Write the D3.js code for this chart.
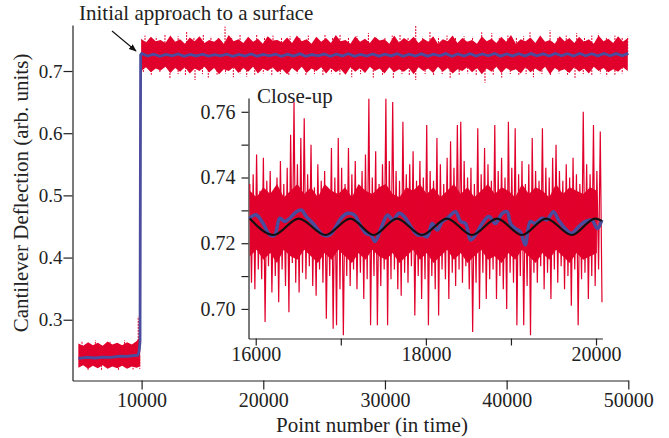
<!DOCTYPE html>
<html>
<head>
<meta charset="utf-8">
<script src="https://cdn.jsdelivr.net/npm/d3@7"></script>
<style>
  body { margin: 0; background: #fff; }
  svg text { font-family: "Liberation Serif", "Times New Roman", serif; fill: #222; }
</style>
</head>
<body>
<div id="chart"></div>
<script>
// ---- main trace: noise envelope before contact ----
const preBandX  = [4800, 5200, 5600, 6000, 6400, 6800, 7200, 7600, 8000, 8400, 8800, 9200, 9600, 9750, 9880];
const preBandHi = [.262, .258, .264, .259, .263, .258, .265, .260, .263, .259, .264, .260, .266, .270, .276];
const preBandLo = [.223, .227, .221, .226, .222, .227, .221, .225, .222, .226, .221, .225, .223, .224, .226];
const preSpikes = [[5100, 0.266], [6200, 0.267], [7400, 0.266], [8600, 0.267], [9720, 0.305], [9790, 0.298],
                   [5600, 0.219], [6700, 0.218], [8100, 0.219], [9300, 0.220], [9850, 0.221]];

// ---- main trace: noise envelope after contact ----
const postBandStart = 9960;
const postBandStep = 400;
const postBandHi = [
  .752, .746, .755, .748, .750, .745, .757, .747, .751, .744,
  .754, .748, .756, .745, .750, .747, .753, .744, .758, .748,
  .751, .745, .755, .747, .752, .744, .756, .749, .750, .746,
  .754, .745, .757, .748, .751, .744, .755, .747, .753, .745,
  .758, .748, .750, .744, .756, .747, .752, .745, .755, .749,
  .751, .744, .757, .746, .753, .748, .755, .745, .752, .747,
  .756, .744, .751, .748, .757, .745, .753, .747, .750, .744,
  .756, .748, .752, .745, .755, .747, .758, .744, .751, .748,
  .754, .745, .757, .747, .750, .744, .756, .748, .753, .745,
  .755, .747, .751, .744, .757, .748, .752, .745, .756, .747,
  .753];
const postBandLo = [
  .700, .706, .698, .704, .701, .707, .697, .705, .699, .706,
  .696, .704, .700, .707, .698, .705, .695, .703, .700, .706,
  .697, .705, .699, .707, .696, .704, .700, .706, .698, .703,
  .695, .705, .699, .707, .697, .704, .700, .706, .696, .705,
  .698, .703, .694, .706, .699, .705, .697, .707, .700, .704,
  .696, .706, .698, .703, .699, .705, .695, .706, .700, .704,
  .697, .707, .699, .705, .696, .703, .700, .706, .698, .705,
  .695, .704, .699, .707, .697, .705, .700, .703, .696, .706,
  .698, .704, .699, .707, .695, .705, .700, .703, .697, .706,
  .699, .704, .696, .707, .700, .705, .698, .703, .699, .706,
  .700];
const postSpikesUp = [[10280, .757], [10700, .753], [11200, .755], [11920, .7585], [12400, .754], [13000, .756], [13700, .7633],
  [14300, .754], [15070, .7585], [15700, .755], [16300, .753], [16855, .7713], [17400, .755], [18090, .7585], [18700, .754],
  [19460, .7585], [20100, .755], [20800, .757], [21500, .754], [22200, .756], [23000, .753], [23700, .757], [24400, .754],
  [25070, .758], [25700, .755], [26310, .758], [27000, .754], [27700, .756], [28640, .761], [29300, .755], [30000, .753],
  [30600, .757], [31240, .758], [31900, .754], [32530, .774], [33100, .755], [33700, .7644], [34400, .755], [35100, .757],
  [35800, .754], [36500, .756], [37200, .755], [37950, .7623], [38780, .761], [39400, .755], [40100, .757], [40800, .754],
  [41400, .756], [41920, .7623], [42700, .755], [43570, .7654], [44200, .755], [44900, .757], [45760, .761], [46400, .755],
  [47000, .757], [47540, .760], [48200, .755], [48900, .757], [49500, .754], [49950, .755]];
const postSpikesDown = [[10140, .697], [10800, .694], [11500, .697], [12330, .6882], [13000, .695], [13600, .693], [14390, .6855],
  [15000, .695], [15480, .6893], [16200, .694], [16900, .696], [17540, .690], [18100, .696], [18640, .6909], [19300, .694],
  [20000, .696], [20700, .692], [21400, .695], [22100, .693], [22800, .696], [23500, .692], [24200, .695], [24900, .693],
  [25600, .696], [26300, .694], [27270, .690], [28000, .695], [29040, .6893], [29800, .694], [30690, .6882], [31400, .695],
  [32000, .693], [32530, .6855], [33300, .695], [34000, .692], [34700, .695], [35360, .689], [36100, .694], [36800, .696],
  [37500, .692], [38220, .6812], [38900, .694], [39600, .6893], [40300, .695], [41000, .693], [41600, .695], [42200, .690],
  [42900, .695], [43600, .693], [44300, .696], [45000, .694], [45620, .689], [46300, .695], [47000, .693], [47700, .696],
  [48230, .6916], [48900, .694], [49500, .696]];

// ---- main trace: smoothed (blue) ----
const preSmooth = [[4800, .238], [5500, .2395], [6200, .2385], [6800, .240], [7500, .2395], [8200, .2415], [8800, .241],
  [9400, .2425], [9700, .243], [9800, .250], [9870, .265], [9920, .726]];
const postSmoothStart = 10000;
const postSmoothStep = 500;
const postSmooth = [
  .7282, .7240, .7270, .7238, .7268, .7245, .7275, .7236, .7266, .7242,
  .7272, .7239, .7264, .7244, .7270, .7236, .7268, .7241, .7274, .7238,
  .7266, .7243, .7271, .7237, .7269, .7240, .7276, .7236, .7265, .7244,
  .7273, .7238, .7270, .7242, .7278, .7236, .7268, .7240, .7275, .7239,
  .7271, .7243, .7279, .7237, .7270, .7241, .7276, .7239, .7272, .7244,
  .7280, .7238, .7273, .7242, .7277, .7240, .7275, .7244, .7281, .7239,
  .7274, .7243, .7278, .7241, .7280, .7245, .7276, .7240, .7282, .7244,
  .7277, .7242, .7281, .7246, .7279, .7243, .7283, .7245, .7280, .7247, .7284];

// ---- close-up (inset) ----
const closeStart = 15930;
const closeStep = 20;
const closeRaw = [
  .738, .708, .741, .706, .747, .712, .736, .709, .746, .696, .739, .713, .742, .705, .735, .710, .740, .702, .745, .712,
  .738, .707, .743, .699, .753, .714, .763, .708, .744, .705, .752, .711, .758, .709, .741, .713, .750, .707, .737, .704,
  .744, .712, .739, .708, .742, .697, .736, .710, .749, .694, .740, .695, .752, .706, .743, .692, .738, .710, .749, .707,
  .741, .712, .745, .706, .737, .711, .742, .703, .747, .709, .764, .695, .740, .710, .748, .695, .738, .707, .744, .712,
  .764, .695, .745, .709, .763, .712, .742, .706, .739, .704, .757, .711, .741, .708, .744, .713, .748, .698, .739, .710,
  .745, .703, .740, .709, .756, .695, .742, .710, .739, .706, .752, .698, .744, .712, .738, .709, .746, .703, .751, .711,
  .743, .707, .756, .712, .757, .708, .745, .713, .740, .706, .743, .693, .738, .708, .755, .700, .741, .711, .749, .703,
  .744, .709, .739, .712, .756, .703, .742, .710, .746, .706, .740, .700, .757, .711, .743, .708, .755, .695, .741, .710,
  .745, .695, .738, .707, .744, .692, .752, .711, .742, .708, .739, .713, .755, .706, .743, .711, .740, .703, .746, .712,
  .750, .708, .742, .713, .739, .706, .744, .710, .740, .701, .746, .712, .741, .695, .738, .709, .760, .711, .744, .703,
  .741, .710, .756, .707, .742, .712, .754, .702];
// dense core of the close-up noise
const closeCoreStep = 80;
const closeCoreHi = [
  .736, .734, .737, .735, .738, .734, .736, .738, .735, .737,
  .734, .738, .736, .735, .737, .734, .738, .736, .735, .737,
  .738, .735, .734, .737, .736, .738, .735, .737, .734, .736,
  .738, .735, .737, .734, .736, .738, .735, .737, .736, .734,
  .738, .735, .737, .736, .734, .738, .735, .737, .736, .735,
  .737, .736];
const closeCoreLo = [
  .716, .718, .715, .717, .714, .718, .716, .715, .718, .716,
  .714, .717, .715, .718, .716, .714, .717, .715, .718, .716,
  .715, .717, .714, .716, .718, .715, .717, .714, .716, .718,
  .715, .717, .714, .716, .718, .715, .716, .714, .717, .715,
  .718, .716, .714, .717, .715, .718, .716, .714, .717, .715,
  .716, .717];
const closeSmooth = [[15930, .7275], [15950, .7281], [16008, .7286], [16087, .7260], [16165, .7225], [16223, .7225],
  [16282, .7276], [16341, .7266], [16400, .7276], [16478, .7296], [16537, .7301], [16595, .7281], [16674, .7260],
  [16733, .7240], [16791, .7225], [16869, .7225], [16930, .7245], [17003, .7276], [17081, .7291], [17159, .7286],
  [17218, .7260], [17296, .7230], [17355, .7225], [17402, .7205], [17472, .7245], [17550, .7286], [17609, .7271],
  [17687, .7291], [17746, .7281], [17824, .7250], [17902, .7225], [17961, .7225], [18016, .7220], [18075, .7260],
  [18134, .7240], [18193, .7266], [18251, .7276], [18349, .7296], [18408, .7266], [18466, .7260], [18525, .7210],
  [18584, .7225], [18662, .7260], [18741, .7281], [18818, .7260], [18897, .7291], [18955, .7296], [18995, .7260],
  [19050, .7245], [19109, .7235], [19168, .7195], [19226, .7266], [19285, .7260], [19363, .7276], [19422, .7271],
  [19500, .7296], [19559, .7271], [19637, .7245], [19716, .7230], [19794, .7250], [19872, .7266], [19951, .7270],
  [20016, .7245], [20068, .7271]];
// fitted oscillation: maxima / minima
const closeFit = [[15930, .7275], [16211, .7225], [16505, .7275], [16819, .7225], [17112, .7275], [17386, .7225],
  [17660, .7275], [17954, .7225], [18248, .7275], [18542, .7225], [18835, .7275], [19129, .7225], [19414, .7275],
  [19716, .7225], [19990, .7275], [20068, .7268]];

// ---- ticks ----
const mainXTicks = [10000, 20000, 30000, 40000, 50000];
const mainYTicks = [0.3, 0.4, 0.5, 0.6, 0.7];
const closeXTicks = [16000, 17000, 18000, 19000, 20000];
const closeXLabels = [16000, 18000, 20000];
const closeYTicks = [0.70, 0.71, 0.72, 0.73, 0.74, 0.75, 0.76];
const closeYLabels = [0.70, 0.72, 0.74, 0.76];

const RED = '#e1002b';
const BLUE = '#4a4c9e';
const w = 669, h = 438;

const svg = d3.select('#chart').append('svg')
  .attr('width', w)
  .attr('height', h);

// main scales
const x = d3.scaleLinear().domain([4320, 50000]).range([72.5, 628.3]);
const y = d3.scaleLinear().domain([0.2023, 0.774]).range([380.5, 25]);

// inset scales
const cx = d3.scaleLinear().domain([15915, 20075]).range([248.5, 602.4]);
const cy = d3.scaleLinear().domain([0.691, 0.7642]).range([338.5, 98]);

function styleAxis(g, size) {
  g.select('.domain').attr('stroke', '#222').attr('stroke-width', 1.2);
  g.selectAll('.tick line').attr('stroke', '#222').attr('stroke-width', 1.2);
  g.selectAll('.tick text').attr('font-size', size || 20).attr('fill', '#222')
    .attr('font-family', '"Liberation Serif", "Times New Roman", serif');
}

// ---- main axes ----
svg.append('g')
  .attr('transform', 'translate(0,380.5)')
  .call(d3.axisBottom(x).tickValues(mainXTicks).tickSize(9).tickSizeOuter(0).tickPadding(3).tickFormat(d3.format('d')))
  .call(styleAxis);

svg.append('g')
  .attr('transform', 'translate(72.5,0)')
  .call(d3.axisLeft(y).tickValues(mainYTicks).tickSize(9).tickSizeOuter(0).tickPadding(1).tickFormat(d3.format('.1f')))
  .call(styleAxis, 19);

// ---- main data ----
function band(xs, hi, lo, sx, sy) {
  return d3.area()
    .x((d, i) => sx(xs[i]))
    .y0((d, i) => sy(lo[i]))
    .y1((d, i) => sy(hi[i]))(xs);
}

const postBandX = postBandHi.map((d, i) => postBandStart + i * postBandStep);
svg.append('path').attr('d', band(preBandX, preBandHi, preBandLo, x, y)).attr('fill', RED);
svg.append('path').attr('d', band(postBandX, postBandHi, postBandLo, x, y)).attr('fill', RED);

svg.append('g').selectAll('line')
  .data(preSpikes)
  .enter().append('line')
  .attr('x1', d => x(d[0])).attr('x2', d => x(d[0]))
  .attr('y1', y(0.242)).attr('y2', d => y(d[1]))
  .attr('stroke', RED).attr('stroke-width', 1).attr('stroke-dasharray', '2,1');

svg.append('g').selectAll('line')
  .data(postSpikesUp.concat(postSpikesDown))
  .enter().append('line')
  .attr('x1', d => x(d[0])).attr('x2', d => x(d[0]))
  .attr('y1', y(0.7258)).attr('y2', d => y(d[1]))
  .attr('stroke', RED).attr('stroke-width', 1).attr('stroke-dasharray', '2,1');

const mainSmooth = preSmooth.concat(postSmooth.map((v, i) => [postSmoothStart + i * postSmoothStep, v]));
svg.append('path')
  .attr('d', d3.line().x(d => x(d[0])).y(d => y(d[1]))(mainSmooth))
  .attr('fill', 'none')
  .attr('stroke', BLUE)
  .attr('stroke-width', 2.8);

// ---- annotation ----
svg.append('text')
  .attr('x', 79)
  .attr('y', 20)
  .attr('font-size', 21)
  .text('Initial approach to a surface');

svg.append('defs').append('marker')
  .attr('id', 'head')
  .attr('viewBox', '0 0 10 10')
  .attr('refX', 9).attr('refY', 5)
  .attr('markerWidth', 7).attr('markerHeight', 7)
  .attr('orient', 'auto')
  .append('path').attr('d', 'M0,1 L10,5 L0,9 z').attr('fill', '#111');

svg.append('line')
  .attr('x1', 112).attr('y1', 31)
  .attr('x2', 136).attr('y2', 51)
  .attr('stroke', '#111').attr('stroke-width', 1.1)
  .attr('marker-end', 'url(#head)');

// ---- inset axes ----
svg.append('g')
  .attr('transform', 'translate(0,338.5)')
  .call(d3.axisBottom(cx).tickValues(closeXTicks).tickSize(7).tickSizeOuter(0).tickPadding(1)
    .tickFormat(d => closeXLabels.includes(d) ? d3.format('d')(d) : ''))
  .call(styleAxis);

svg.append('g')
  .attr('transform', 'translate(248.5,0)')
  .call(d3.axisLeft(cy).tickValues(closeYTicks).tickSize(7).tickSizeOuter(0).tickPadding(6)
    .tickFormat(d => closeYLabels.some(v => Math.abs(v - d) < 1e-6) ? d3.format('.2f')(d) : ''))
  .call(styleAxis);

svg.append('text')
  .attr('x', 257)
  .attr('y', 103)
  .attr('font-size', 21)
  .text('Close-up');

// ---- inset data ----
const closeCoreX = closeCoreHi.map((d, i) => closeStart + i * closeCoreStep);
svg.append('path').attr('d', band(closeCoreX, closeCoreHi, closeCoreLo, cx, cy)).attr('fill', RED);

svg.append('path')
  .attr('d', d3.line().x((d, i) => cx(closeStart + i * closeStep)).y(d => cy(d))(closeRaw))
  .attr('fill', 'none')
  .attr('stroke', RED)
  .attr('stroke-width', 1.2);

svg.append('path')
  .attr('d', d3.line().curve(d3.curveCatmullRom).x(d => cx(d[0])).y(d => cy(d[1]))(closeSmooth))
  .attr('fill', 'none')
  .attr('stroke', BLUE)
  .attr('stroke-width', 3.5);

svg.append('path')
  .attr('d', d3.line().curve(d3.curveMonotoneX).x(d => cx(d[0])).y(d => cy(d[1]))(closeFit))
  .attr('fill', 'none')
  .attr('stroke', '#111')
  .attr('stroke-width', 2.2);

// ---- axis titles ----
svg.append('text')
  .attr('x', 372)
  .attr('y', 432)
  .attr('text-anchor', 'middle')
  .attr('font-size', 21)
  .text('Point number (in time)');

svg.append('text')
  .attr('transform', 'translate(28,193) rotate(-90)')
  .attr('text-anchor', 'middle')
  .attr('font-size', 21)
  .text('Cantilever Deflection (arb. units)');
</script>
</body>
</html>
